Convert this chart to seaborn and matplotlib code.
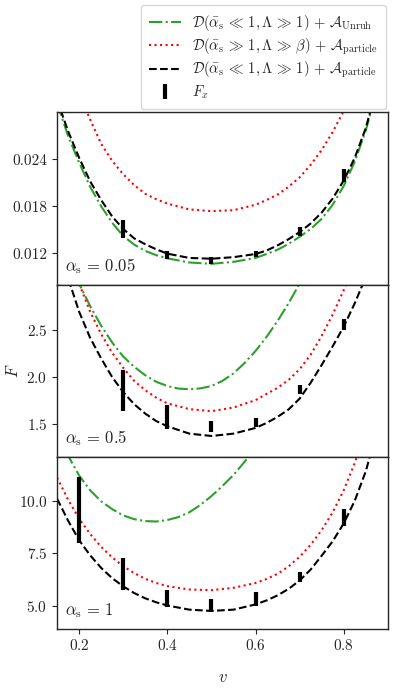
import numpy as np
import pandas as pd
import seaborn as sns
import matplotlib.pyplot as plt

sns.set_style('ticks')
plt.rcParams['font.family'] = ['cmr10', 'DejaVu Serif']
plt.rcParams['mathtext.fontset'] = 'cm'
plt.rcParams['axes.formatter.use_mathtext'] = True
plt.rcParams['font.size'] = 11
plt.rcParams['axes.linewidth'] = 1.0
plt.rcParams['xtick.direction'] = 'out'
plt.rcParams['ytick.direction'] = 'out'

# 图例文字
lab_unruh = r'$\mathcal{D}(\bar{\alpha}_\mathrm{s} \,\ll\, 1, \Lambda \,\gg\, 1) \,+\, \mathcal{A}_\mathrm{Unruh}$'
lab_part_big = r'$\mathcal{D}(\bar{\alpha}_\mathrm{s} \,\gg\, 1, \Lambda \,\gg\, \beta) \,+\, \mathcal{A}_\mathrm{particle}$'
lab_part_small = r'$\mathcal{D}(\bar{\alpha}_\mathrm{s} \,\ll\, 1, \Lambda \,\gg\, 1) \,+\, \mathcal{A}_\mathrm{particle}$'
lab_fx = r'$F_x$'

# ---- alpha_s = 0.05 ----
v_a1_green = [0.15, 0.175, 0.2, 0.225, 0.25, 0.275, 0.3, 0.325, 0.35, 0.375, 0.4, 0.45, 0.5, 0.55, 0.6, 0.625,
              0.65, 0.675, 0.7, 0.725, 0.75, 0.775, 0.8, 0.825, 0.85, 0.875]
a1_green = [0.0312, 0.0270, 0.0236, 0.0205, 0.0180, 0.0159, 0.0142, 0.0131, 0.0123, 0.01175, 0.01135, 0.01082,
            0.01065, 0.0109, 0.0114, 0.0119, 0.01245, 0.0132, 0.0141, 0.0151, 0.0164, 0.0182, 0.0206, 0.0237,
            0.0277, 0.0328]
v_a1_red = [0.2, 0.225, 0.25, 0.275, 0.3, 0.325, 0.35, 0.375, 0.4, 0.45, 0.5, 0.55, 0.6, 0.625, 0.65, 0.675,
            0.7, 0.725, 0.75, 0.775, 0.8, 0.81]
a1_red = [0.0324, 0.0291, 0.0260, 0.0238, 0.0221, 0.0207, 0.0196, 0.0189, 0.01835, 0.0176, 0.01738, 0.0175,
          0.0182, 0.0188, 0.0195, 0.0205, 0.0217, 0.0233, 0.0252, 0.0275, 0.0302, 0.0314]
v_a1_black = [0.15, 0.175, 0.2, 0.225, 0.25, 0.275, 0.3, 0.325, 0.35, 0.375, 0.4, 0.45, 0.5, 0.55, 0.6, 0.625,
              0.65, 0.675, 0.7, 0.725, 0.75, 0.775, 0.8, 0.825, 0.85, 0.875]
a1_black = [0.0316, 0.0276, 0.0242, 0.0212, 0.0188, 0.0167, 0.0151, 0.0139, 0.01315, 0.0125, 0.01195, 0.0114,
            0.0113, 0.0115, 0.0119, 0.01235, 0.0130, 0.0138, 0.0147, 0.0158, 0.0172, 0.0190, 0.0213, 0.0242,
            0.0280, 0.0332]
v_a1_fx = [0.3, 0.4, 0.5, 0.6, 0.7, 0.8]
a1_fx_lo = [0.0139, 0.0113, 0.0106, 0.0115, 0.0142, 0.0211]
a1_fx_hi = [0.0162, 0.0123, 0.0115, 0.0123, 0.0153, 0.0228]

# ---- alpha_s = 0.5 ----
v_a2_green = [0.175, 0.2, 0.225, 0.25, 0.275, 0.3, 0.325, 0.35, 0.375, 0.4, 0.425, 0.45, 0.475, 0.5, 0.525,
              0.55, 0.575, 0.6, 0.625, 0.65, 0.675, 0.7, 0.72]
a2_green = [3.30, 3.0, 2.76, 2.55, 2.37, 2.22, 2.11, 2.02, 1.95, 1.905, 1.878, 1.870, 1.88, 1.905, 1.96,
            2.04, 2.15, 2.28, 2.43, 2.60, 2.79, 3.0, 3.18]
v_a2_red = [0.175, 0.2, 0.225, 0.25, 0.275, 0.3, 0.325, 0.35, 0.375, 0.4, 0.45, 0.5, 0.55, 0.6, 0.65, 0.675,
            0.7, 0.725, 0.75, 0.775, 0.8, 0.81]
a2_red = [3.45, 3.0, 2.70, 2.46, 2.26, 2.10, 1.96, 1.86, 1.78, 1.72, 1.658, 1.636, 1.675, 1.754, 1.886, 1.97,
          2.085, 2.24, 2.44, 2.67, 2.93, 3.05]
v_a2_black = [0.15, 0.175, 0.2, 0.225, 0.25, 0.275, 0.3, 0.325, 0.35, 0.375, 0.4, 0.45, 0.5, 0.55, 0.6, 0.625,
              0.65, 0.675, 0.7, 0.725, 0.75, 0.775, 0.8, 0.825, 0.85]
a2_black = [3.50, 3.06, 2.70, 2.42, 2.20, 2.00, 1.84, 1.71, 1.61, 1.53, 1.475, 1.396, 1.371, 1.396, 1.457, 1.51,
            1.575, 1.655, 1.77, 1.94, 2.13, 2.33, 2.54, 2.79, 3.07]
v_a2_fx = [0.3, 0.4, 0.5, 0.6, 0.7, 0.8]
a2_fx_lo = [1.636, 1.45, 1.414, 1.468, 1.825, 2.50]
a2_fx_hi = [2.075, 1.70, 1.535, 1.564, 1.915, 2.62]

# ---- alpha_s = 1 ----
v_a3_green = [0.15, 0.175, 0.2, 0.225, 0.25, 0.275, 0.3, 0.325, 0.35, 0.375, 0.4, 0.425, 0.45, 0.475, 0.5,
              0.525, 0.55, 0.575, 0.6]
a3_green = [13.3, 12.15, 11.2, 10.5, 9.97, 9.6, 9.3, 9.12, 9.03, 9.01, 9.08, 9.22, 9.45, 9.8, 10.22,
            10.7, 11.23, 11.85, 12.5]
v_a3_red = [0.15, 0.175, 0.2, 0.225, 0.25, 0.275, 0.3, 0.325, 0.35, 0.375, 0.4, 0.45, 0.5, 0.55, 0.6, 0.625,
            0.65, 0.675, 0.7, 0.725, 0.75, 0.775, 0.8, 0.825, 0.85]
a3_red = [11.1, 10.05, 9.15, 8.42, 7.80, 7.30, 6.88, 6.55, 6.28, 6.08, 5.93, 5.77, 5.74, 5.85, 6.08, 6.27,
          6.52, 6.87, 7.33, 7.9, 8.6, 9.45, 10.5, 11.8, 13.3]
v_a3_black = [0.15, 0.175, 0.2, 0.225, 0.25, 0.275, 0.3, 0.325, 0.35, 0.375, 0.4, 0.45, 0.5, 0.55, 0.6, 0.625,
              0.65, 0.675, 0.7, 0.725, 0.75, 0.775, 0.8, 0.825, 0.85, 0.875]
a3_black = [10.1, 9.05, 8.12, 7.40, 6.80, 6.31, 5.92, 5.60, 5.35, 5.16, 5.01, 4.81, 4.75, 4.81, 5.06, 5.25,
            5.49, 5.80, 6.2, 6.72, 7.38, 8.07, 8.92, 10.0, 11.4, 13.3]
v_a3_fx = [0.2, 0.3, 0.4, 0.5, 0.6, 0.7, 0.8]
a3_fx_lo = [7.98, 5.73, 4.94, 4.70, 4.97, 6.12, 8.81]
a3_fx_hi = [11.14, 7.28, 5.77, 5.30, 5.65, 6.60, 9.60]

panels = [
    (v_a1_green, a1_green, v_a1_red, a1_red, v_a1_black, a1_black, v_a1_fx, a1_fx_lo, a1_fx_hi,
     r'$\alpha_\mathrm{s} \,=\, 0.05$', (0.008, 0.030), [0.012, 0.018, 0.024]),
    (v_a2_green, a2_green, v_a2_red, a2_red, v_a2_black, a2_black, v_a2_fx, a2_fx_lo, a2_fx_hi,
     r'$\alpha_\mathrm{s} \,=\, 0.5$', (1.15, 2.99), [1.5, 2.0, 2.5]),
    (v_a3_green, a3_green, v_a3_red, a3_red, v_a3_black, a3_black, v_a3_fx, a3_fx_lo, a3_fx_hi,
     r'$\alpha_\mathrm{s} \,=\, 1$', (3.9, 12.1), [5.0, 7.5, 10.0]),
]

fig, axes = plt.subplots(3, 1, figsize=(3.99, 6.94), dpi=100, sharex=True)
fig.subplots_adjust(left=0.143, right=0.972, top=0.838, bottom=0.094, hspace=0)

for ax, p in zip(axes, panels):
    vg, yg, vr, yr, vb, yb, vf, flo, fhi, txt, ylim, yt = p
    sns.lineplot(x=vg, y=yg, ax=ax, color='tab:green', linestyle='-.', linewidth=1.5,
                 label=lab_unruh, sort=False, estimator=None)
    sns.lineplot(x=vr, y=yr, ax=ax, color='red', linestyle=':', linewidth=1.5,
                 label=lab_part_big, sort=False, estimator=None)
    sns.lineplot(x=vb, y=yb, ax=ax, color='black', linestyle='--', linewidth=1.5,
                 label=lab_part_small, sort=False, estimator=None)
    lo = np.array(flo)
    hi = np.array(fhi)
    ax.errorbar(vf, (lo + hi) / 2, yerr=(hi - lo) / 2, fmt='none', ecolor='black',
                elinewidth=3, capsize=0, label=lab_fx)
    if ax.get_legend() is not None:
        ax.get_legend().remove()
    ax.set_ylim(*ylim)
    ax.set_yticks(yt)
    ax.text(0.025, 0.05, txt, transform=ax.transAxes, fontsize=12, ha='left', va='bottom')
    ax.set_ylabel('')

axes[0].set_yticklabels(['0.012', '0.018', '0.024'])
axes[2].set_xlim(0.15, 0.9)
axes[2].set_xticks([0.2, 0.4, 0.6, 0.8])
axes[2].set_xlabel(r'$v$', fontsize=12, labelpad=12)
axes[1].set_ylabel(r'$F$', fontsize=12)

handles, labels = axes[0].get_legend_handles_labels()
fig.legend(handles, labels, loc='upper right', bbox_to_anchor=(0.975, 0.997),
           fontsize=10.5, framealpha=0.8, edgecolor='0.8', borderaxespad=0.2,
           labelspacing=0.22, borderpad=0.55, handlelength=2.2)

plt.savefig('out.png', dpi=100)
